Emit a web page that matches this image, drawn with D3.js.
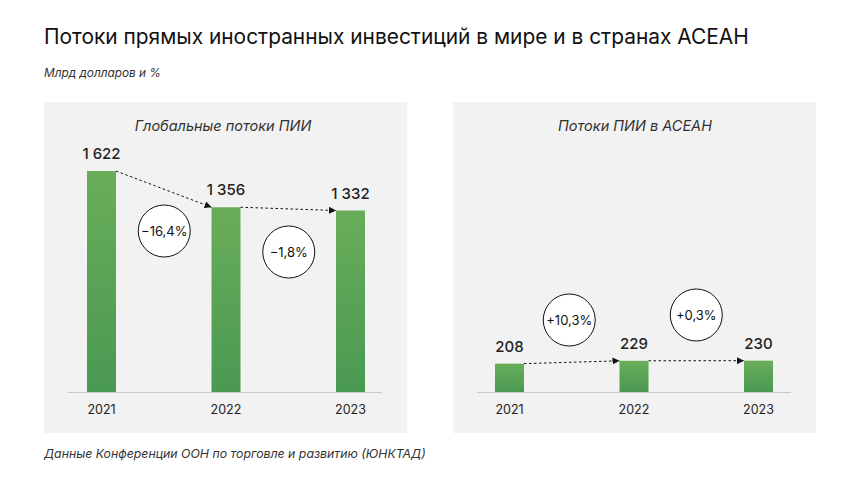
<!DOCTYPE html>
<html>
<head>
<meta charset="utf-8">
<script src="https://cdn.jsdelivr.net/npm/d3@7"></script>
<style>
  body { margin: 0; background: #fff; }
  svg { display: block; font-family: Inter, "Noto Sans", sans-serif; }
</style>
</head>
<body>
<div id="chart"></div>
<script>
// values, bn USD
const years = ['2021', '2022', '2023'];
const globalFlows = [1622, 1356, 1332];
const aseanFlows = [208, 229, 230];
const globalChanges = ['−16,4%', '−1,8%'];
const aseanChanges = ['+10,3%', '+0,3%'];

const width = 860, height = 484;
const svg = d3.select('#chart').append('svg')
    .attr('width', width)
    .attr('height', height);

const defs = svg.append('defs');
const grad = defs.append('linearGradient')
    .attr('id', 'barGrad')
    .attr('x1', 0).attr('y1', 0).attr('x2', 0).attr('y2', 1);
grad.append('stop').attr('offset', '0%').attr('stop-color', '#69ad59');
grad.append('stop').attr('offset', '100%').attr('stop-color', '#4a9953');

defs.append('marker')
    .attr('id', 'arrow')
    .attr('viewBox', '0 0 10 10')
    .attr('refX', 10).attr('refY', 5)
    .attr('markerWidth', 7).attr('markerHeight', 7)
    .attr('markerUnits', 'userSpaceOnUse')
    .attr('orient', 'auto')
    .append('path')
    .attr('d', 'M0,0L10,5L0,10z')
    .attr('fill', '#111');

svg.append('text')
    .attr('x', 44).attr('y', 44)
    .attr('font-size', 20.9)
    .attr('fill', '#111')
    .text('Потоки прямых иностранных инвестиций в мире и в странах АСЕАН');

svg.append('text')
    .attr('x', 44).attr('y', 77)
    .attr('font-size', 11.8)
    .attr('font-style', 'italic')
    .attr('fill', '#333')
    .text('Млрд долларов и %');

svg.append('text')
    .attr('x', 44).attr('y', 458)
    .attr('font-size', 12.3)
    .attr('font-style', 'italic')
    .attr('fill', '#333')
    .text('Данные Конференции ООН по торговле и развитию (ЮНКТАД)');

// common value scale for both panels
const baseY = 392;
const y = d3.scaleLinear().domain([0, 1622]).range([baseY, 171]);

function panel(opts) {
    const g = svg.append('g');
    g.append('rect')
        .attr('x', opts.x0).attr('y', 102)
        .attr('width', opts.x1 - opts.x0).attr('height', 331)
        .attr('fill', '#f2f2f2');

    g.append('text')
        .attr('x', opts.titleX).attr('y', 131)
        .attr('text-anchor', 'middle')
        .attr('font-size', 14.5)
        .attr('font-style', 'italic')
        .attr('fill', '#333')
        .text(opts.title);

    const x = d3.scalePoint().domain(years).range(opts.xr);
    const bw = 29;

    g.append('line')
        .attr('x1', opts.axis[0]).attr('x2', opts.axis[1])
        .attr('y1', baseY + 0.5).attr('y2', baseY + 0.5)
        .attr('stroke', '#c9c9c9');

    g.selectAll('rect.bar').data(opts.values).join('rect')
        .attr('class', 'bar')
        .attr('x', (d, i) => x(years[i]) - bw / 2)
        .attr('y', d => y(d))
        .attr('width', bw)
        .attr('height', d => baseY - y(d))
        .attr('fill', 'url(#barGrad)');

    g.selectAll('text.val').data(opts.values).join('text')
        .attr('class', 'val')
        .attr('x', (d, i) => x(years[i]))
        .attr('y', d => y(d) - 12)
        .attr('text-anchor', 'middle')
        .attr('font-size', 15)
        .attr('font-weight', 500)
        .attr('fill', '#222')
        .text(d => d3.format(',')(d).replace(',', ' '));

    g.selectAll('text.year').data(years).join('text')
        .attr('class', 'year')
        .attr('x', d => x(d))
        .attr('y', 414)
        .attr('text-anchor', 'middle')
        .attr('font-size', 12.5)
        .attr('fill', '#222')
        .text(d => d);

    // dotted arrows bar to bar
    opts.values.slice(1).forEach((v, i) => {
        const prev = opts.values[i];
        g.append('line')
            .attr('x1', x(years[i]) + bw / 2).attr('y1', y(prev))
            .attr('x2', x(years[i + 1]) - bw / 2).attr('y2', y(v))
            .attr('stroke', '#111')
            .attr('stroke-width', 1)
            .attr('stroke-dasharray', '2.5,2.5')
            .attr('marker-end', 'url(#arrow)');
    });

    opts.changes.forEach((c, i) => {
        const cx = (x(years[i]) + x(years[i + 1])) / 2 + opts.circleDx[i];
        const cy = opts.circleY[i];
        g.append('circle')
            .attr('cx', cx).attr('cy', cy).attr('r', 26)
            .attr('fill', '#fff')
            .attr('stroke', '#111')
            .attr('stroke-width', 1);
        g.append('text')
            .attr('x', cx).attr('y', cy + 4.5)
            .attr('text-anchor', 'middle')
            .attr('font-size', 13)
            .attr('fill', '#111')
            .text(c);
    });
}

panel({
    x0: 44, x1: 407, titleX: 223,
    title: 'Глобальные потоки ПИИ',
    xr: [101.5, 350.5],
    axis: [68, 382],
    values: globalFlows,
    changes: globalChanges,
    circleDx: [0.5, 0.5],
    circleY: [231, 252]
});

panel({
    x0: 453, x1: 816, titleX: 635,
    title: 'Потоки ПИИ в АСЕАН',
    xr: [509.5, 758.5],
    axis: [477, 791],
    values: aseanFlows,
    changes: aseanChanges,
    circleDx: [-2.5, 0],
    circleY: [320, 315]
});
</script>
</body>
</html>
